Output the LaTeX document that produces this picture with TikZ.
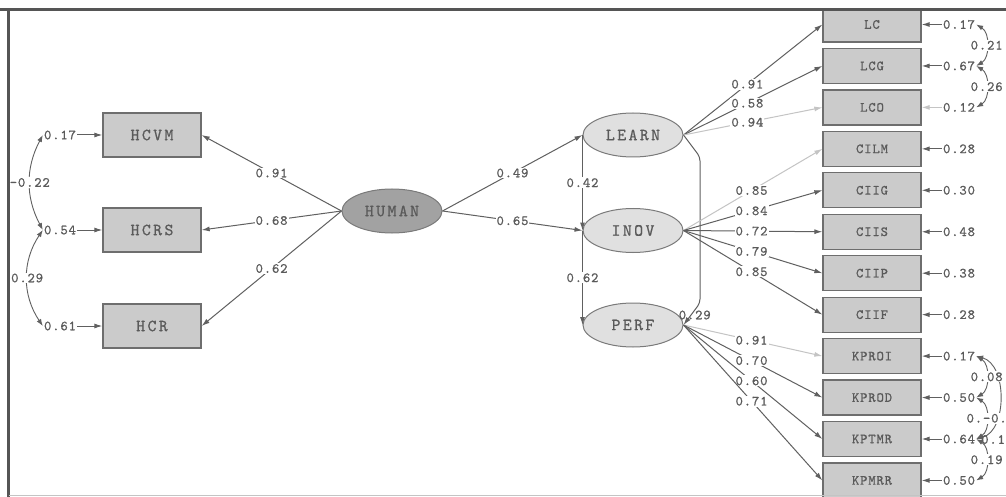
\documentclass[tikz,border=0pt]{standalone}
\usepackage{fontspec}
\usetikzlibrary{arrows.meta,shapes.geometric}
\newfontfamily\lmbig[LetterSpace=14,FakeBold=0.8]{lmmono10-regular.otf}
\newfontfamily\lmsmall[LetterSpace=6,FakeBold=0.8]{lmmono10-regular.otf}
\definecolor{txt}{HTML}{5A5A5A}
\definecolor{boxd}{HTML}{6E6E6E}
\definecolor{boxf}{HTML}{CBCBCB}
\definecolor{elld}{HTML}{7A7A7A}
\definecolor{ellf}{HTML}{E0E0E0}
\definecolor{humf}{HTML}{A2A2A2}
\definecolor{lined}{HTML}{606060}
\definecolor{lightl}{HTML}{C4C4C4}
\definecolor{framec}{HTML}{555555}
\tikzset{
  bigf/.style={font=\lmbig\fontsize{17}{17}\selectfont, text=txt},
  smallf/.style={font=\lmsmall\fontsize{14}{14}\selectfont, text=txt},
  box/.style={draw=boxd, fill=boxf, line width=1.3pt, minimum width=98pt, minimum height=44pt, inner sep=0pt, bigf},
  rbox/.style={box, minimum height=35pt, smallf},
  lat/.style={ellipse, draw=elld, fill=ellf, line width=1pt, minimum width=100pt, minimum height=44pt, inner sep=0pt, bigf},
  arr/.style={draw=lined, line width=1pt, -{Latex[length=8pt,width=5pt]}},
  larr/.style={arr, draw=lightl},
  lab/.style={fill=white, inner sep=1pt, smallf},
  err/.style={inner sep=1pt, smallf},
  cov/.style={draw=lined, line width=0.9pt, {Latex[length=7pt,width=5pt]}-{Latex[length=7pt,width=5pt]}}
}
\begin{document}
\begin{tikzpicture}[x=1pt,y=-1pt]
\useasboundingbox (0,0) rectangle (1006,497);
\fill[white] (0,0) rectangle (1006,497);
\begin{scope}
\clip (0,9) rectangle (1006,497);
% left indicators
\node[box] (HCVM) at (152,135) {HCVM};
\node[box] (HCRS) at (152,230) {HCRS};
\node[box] (HCR)  at (152,326) {HCR};
\node[err] (l1) at (60,135) {0.17};
\node[err] (l2) at (60,230) {0.54};
\node[err] (l3) at (60,326) {0.61};
\draw[arr] (l1) -- (HCVM);
\draw[arr] (l2) -- (HCRS);
\draw[arr] (l3) -- (HCR);
\draw[cov] (l1.west) to[bend right=28] node[lab]{-0.22} (l2.west);
\draw[cov] (l2.west) to[bend right=34] node[lab]{0.29} (l3.west);
% latent variables
\node[lat, fill=humf] (HUMAN) at (392,211) {HUMAN};
\node[lat] (LEARN) at (633,135) {LEARN};
\node[lat] (INOV)  at (633,230.5) {INOV};
\node[lat] (PERF)  at (633,325) {PERF};
\draw[arr] (HUMAN.west) -- node[lab]{0.91} (HCVM.east);
\draw[arr] (HUMAN.west) -- node[lab]{0.68} (HCRS.east);
\draw[arr] (HUMAN.west) -- node[lab]{0.62} (HCR.east);
\draw[arr] (HUMAN.east) -- node[lab]{0.49} (LEARN.west);
\draw[arr] (HUMAN.east) -- node[lab]{0.65} (INOV.west);
\draw[arr] (LEARN.west) -- node[lab]{0.42} (INOV.west);
\draw[arr] (INOV.west) -- node[lab]{0.62} (PERF.west);
\draw[arr, rounded corners=4pt] (LEARN.east) -- (700,157) -- (700,303) -- node[smallf, inner sep=0pt, xshift=3pt, yshift=-1pt]{0.29} (PERF.east);
% right indicators
\foreach \n/\t [count=\i from 0] in {LC/LC,LCG/LCG,LCO/LCO,CILM/CILM,CIIG/CIIG,CIIS/CIIS,CIIP/CIIP,CIIF/CIIF,KPROI/KPROI,KPROD/KPROD,KPTMR/KPTMR,KPMRR/KPMRR}
  \node[rbox] (\n) at (872,24.5+41.45*\i) {\t};
\foreach \n/\v [count=\i from 0] in {LC/0.17,LCG/0.67,LCO/0.12,CILM/0.28,CIIG/0.30,CIIS/0.48,CIIP/0.38,CIIF/0.28,KPROI/0.17,KPROD/0.50,KPTMR/0.64,KPMRR/0.50}
  \node[err] (r\i) at (959,24.5+41.45*\i) {\v};
\draw[arr] (r0) -- (LC);
\draw[arr] (r1) -- (LCG);
\draw[larr] (r2) -- (LCO);
\draw[arr] (r3) -- (CILM);
\draw[arr] (r4) -- (CIIG);
\draw[arr] (r5) -- (CIIS);
\draw[arr] (r6) -- (CIIP);
\draw[arr] (r7) -- (CIIF);
\draw[arr] (r8) -- (KPROI);
\draw[arr] (r9) -- (KPROD);
\draw[arr] (r10) -- (KPTMR);
\draw[arr] (r11) -- (KPMRR);
% loadings
\draw[arr]  (LEARN.east) -- node[lab, pos=0.46]{0.91} (LC.west);
\draw[arr]  (LEARN.east) -- node[lab, pos=0.46]{0.58} (LCG.west);
\draw[larr] (LEARN.east) -- node[lab, pos=0.46]{0.94} (LCO.west);
\draw[larr] (INOV.east) -- node[lab, pos=0.49]{0.85} (CILM.west);
\draw[arr]  (INOV.east) -- node[lab, pos=0.49]{0.84} (CIIG.west);
\draw[arr]  (INOV.east) -- node[lab, pos=0.49]{0.72} (CIIS.west);
\draw[arr]  (INOV.east) -- node[lab, pos=0.49]{0.79} (CIIP.west);
\draw[arr]  (INOV.east) -- node[lab, pos=0.49]{0.85} (CIIF.west);
\draw[larr] (PERF.east) -- node[lab, pos=0.49]{0.91} (KPROI.west);
\draw[arr]  (PERF.east) -- node[lab, pos=0.49]{0.70} (KPROD.west);
\draw[arr]  (PERF.east) -- node[lab, pos=0.49]{0.60} (KPTMR.west);
\draw[arr]  (PERF.east) -- node[lab, pos=0.49]{0.71} (KPMRR.west);
% error covariances right
\draw[cov] (r0.east) to[bend left=60] node[lab]{0.21} (r1.east);
\draw[cov] (r1.east) to[bend left=60] node[lab]{0.26} (r2.east);
\draw[cov] (r8.east) to[bend left=75] (r10.east);
\draw[cov] (r8.east) to[bend left=60] node[lab]{0.08} (r9.east);
\draw[cov] (r9.east) to[bend left=60] node[lab]{0.-0.} (r10.east);
\draw[cov] (r10.east) to[bend left=60] node[lab]{0.19} (r11.east);
\node[smallf, inner sep=0pt, anchor=west] (x1) at (981,439.5) {0.1};
\end{scope}
% frame
\draw[framec, line width=2.5pt] (0,9.5) -- (1006,9.5);
\draw[framec, line width=2.5pt] (8.5,9.5) -- (8.5,497);
\draw[lightl, line width=1.5pt] (8.5,495.5) -- (1006,495.5);
\end{tikzpicture}
\end{document}
